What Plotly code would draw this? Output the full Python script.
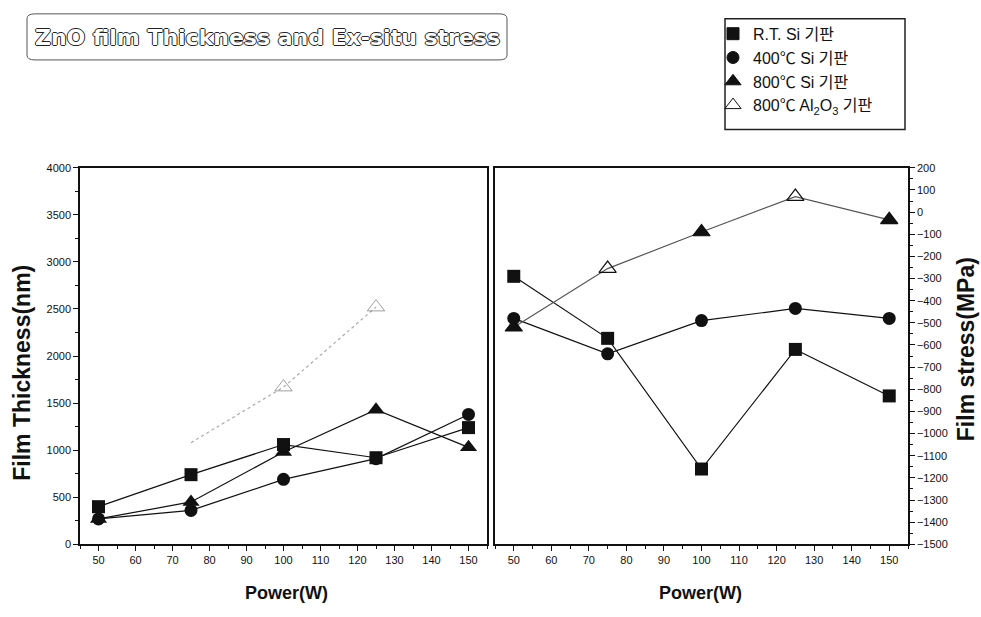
import plotly.graph_objects as go

power = [50, 75, 100, 125, 150]

# Left panel: film thickness (nm)
thk_rt = [400, 740, 1060, 920, 1240]
thk_400 = [270, 360, 690, 910, 1380]
thk_800 = [270, 450, 980, 1430, 1030]
thk_al_x = [75, 100, 125]
thk_al = [1080, 1670, 2520]

# Right panel: film stress (MPa)
str_rt = [-290, -570, -1160, -620, -830]
str_400 = [-480, -640, -490, -435, -480]
str_800 = [-520, -255, -90, 70, -35]

legend_labels = ["R.T. Si 기판", "400℃ Si 기판", "800℃ Si 기판", "800℃ Al<sub>2</sub>O<sub>3</sub> 기판"]
legend_symbols = ["square", "circle", "triangle-up", "triangle-up-open"]

FONT = "Liberation Sans, Arial, Noto Sans CJK KR, sans-serif"

fig = go.Figure()

line_k = dict(color="#111", width=1.2)
# left
fig.add_trace(go.Scatter(x=thk_al_x, y=thk_al, mode="lines+markers", xaxis="x", yaxis="y",
                         line=dict(color="#aaa", width=1.2, dash="dot"), showlegend=False,
                         marker=dict(symbol="triangle-up-open", size=[0, 15, 15], color="#777", line=dict(width=1))))
fig.add_trace(go.Scatter(x=power, y=thk_rt, mode="lines+markers", xaxis="x", yaxis="y", line=line_k,
                         showlegend=False, marker=dict(symbol="square", size=13, color="#111")))
fig.add_trace(go.Scatter(x=power, y=thk_400, mode="lines+markers", xaxis="x", yaxis="y", line=line_k,
                         showlegend=False, marker=dict(symbol="circle", size=13, color="#111")))
fig.add_trace(go.Scatter(x=power, y=thk_800, mode="lines+markers", xaxis="x", yaxis="y", line=line_k,
                         showlegend=False, marker=dict(symbol="triangle-up", size=15, color="#111")))
# right
fig.add_trace(go.Scatter(x=power, y=str_rt, mode="lines+markers", xaxis="x2", yaxis="y2", line=line_k,
                         showlegend=False, marker=dict(symbol="square", size=13, color="#111")))
fig.add_trace(go.Scatter(x=power, y=str_400, mode="lines+markers", xaxis="x2", yaxis="y2", line=line_k,
                         showlegend=False, marker=dict(symbol="circle", size=13, color="#111")))
fig.add_trace(go.Scatter(x=power, y=str_800, mode="lines+markers", xaxis="x2", yaxis="y2",
                         line=dict(color="#555", width=1.2), showlegend=False,
                         marker=dict(symbol=["triangle-up", "triangle-up-open", "triangle-up",
                                             "triangle-up-open", "triangle-up"],
                                     size=15, color="#111", line=dict(width=1.2, color="#111"))))
# legend entries
for i, (sym, lab) in enumerate(zip(legend_symbols, legend_labels)):
    fig.add_trace(go.Scatter(x=[None], y=[None], mode="markers", name=lab, legendgroup=f"g{i}",
                             marker=dict(symbol=sym, size=12 if i < 2 else 14, color="#111",
                                         line=dict(width=1, color="#111"))))

W, H = 981, 617
y0 = (H - 549) / H
y1 = (H - 165) / H

tickfont = dict(family=FONT, size=11, color="#111")
xcommon = dict(range=[45, 155], tickvals=list(range(50, 151, 10)), ticks="outside", ticklen=5,
               tickwidth=1, tickcolor="#111", showline=True, linecolor="#111", linewidth=1.5,
               mirror=True, showgrid=False, zeroline=False, tickfont=tickfont,
               minor=dict(dtick=5, tick0=0, ticks="outside", ticklen=3, tickcolor="#111"))

fig.update_layout(
    width=W, height=H, margin=dict(l=0, r=0, t=0, b=0),
    paper_bgcolor="white", plot_bgcolor="white", showlegend=True,
    font=dict(family=FONT, color="#111"),
    legend=dict(x=713 / W, y=1 - 11 / H, xanchor="left", yanchor="top", bgcolor="rgba(0,0,0,0)",
                font=dict(size=16, family=FONT, color="#111"), tracegroupgap=1, itemwidth=30,
                traceorder="normal"),
    xaxis=dict(domain=[80 / W, 487 / W], anchor="y", **xcommon),
    yaxis=dict(domain=[y0, y1], anchor="x", range=[0, 4000], dtick=500, ticks="outside", ticklen=5,
               tickcolor="#111", showline=True, linecolor="#111", linewidth=1.5, mirror=True,
               showgrid=False, zeroline=False, tickfont=tickfont,
               minor=dict(dtick=250, ticks="outside", ticklen=3, tickcolor="#111")),
    xaxis2=dict(domain=[495 / W, 908 / W], anchor="y2", **xcommon),
    yaxis2=dict(domain=[y0, y1], anchor="x2", side="right", range=[-1500, 200], dtick=100,
                ticks="outside", ticklen=5, tickcolor="#111", showline=True, linecolor="#111",
                linewidth=1.5, mirror=True, showgrid=False, zeroline=False, tickfont=tickfont,
                minor=dict(dtick=50, ticks="outside", ticklen=3, tickcolor="#111")),
)

ann = []
# axis titles
ann.append(dict(text="<b>Film Thickness(nm)</b>", x=22, y=374, textangle=-90, font=dict(size=23, family=FONT)))
ann.append(dict(text="<b>Film stress(MPa)</b>", x=966, y=350, textangle=-90, font=dict(size=23, family=FONT)))
ann.append(dict(text="<b>Power(W)</b>", x=286, y=599, font=dict(size=18, family=FONT)))
ann.append(dict(text="<b>Power(W)</b>", x=700, y=599, font=dict(size=18, family=FONT)))
# title (outlined look)
ann.append(dict(text="<b>ZnO film Thickness and Ex-situ stress</b>", x=267, y=32,
                font=dict(size=22, family="DejaVu Sans, sans-serif", color="white",
                          shadow="1px 0 0 #222, -1px 0 0 #222, 0 1px 0 #222, 0 -1px 0 #222")))

for a in ann:
    a.update(xref="paper", yref="paper", showarrow=False)
    a["x"] = a["x"] / W
    a["y"] = 1 - a["y"] / H
    a.setdefault("xanchor", "center")
    a.setdefault("yanchor", "middle")
fig.update_layout(annotations=ann)

# title rounded box and legend box
def rpath(x0, y0_, x1, y1_, r):
    return (f"M {x0 + r},{y0_} L {x1 - r},{y0_} Q {x1},{y0_} {x1},{y0_ + r} L {x1},{y1_ - r} "
            f"Q {x1},{y1_} {x1 - r},{y1_} L {x0 + r},{y1_} Q {x0},{y1_} {x0},{y1_ - r} "
            f"L {x0},{y0_ + r} Q {x0},{y0_} {x0 + r},{y0_} Z")

fig.add_shape(type="path", xref="paper", yref="paper",
              path=rpath(27 / W, 1 - 55 / H, 507 / W, 1 - 8 / H, 0.008),
              line=dict(color="#555", width=1))
fig.add_shape(type="rect", xref="paper", yref="paper", x0=725 / W, x1=905 / W,
              y0=1 - 126 / H, y1=1 - 13 / H, line=dict(color="#222", width=1.5))

fig.write_html("out.html")
